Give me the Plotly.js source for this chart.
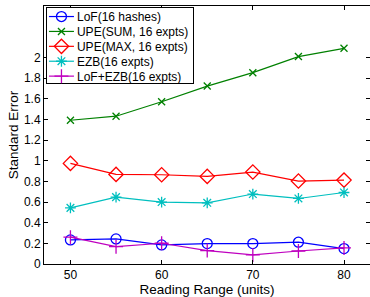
<!DOCTYPE html>
<html>
<head>
<meta charset="utf-8">
<script src="https://cdn.plot.ly/plotly-3.0.1.min.js"></script>
<style>html,body{margin:0;padding:0;background:#fff;}#chart{width:370px;height:297px;}</style>
</head>
<body>
<div id="chart"></div>
<script>
const readingRange = [50, 55, 60, 65, 70, 75, 80];
const lofHashes = [0.233, 0.243, 0.185, 0.198, 0.198, 0.211, 0.149];
const upeSum = [1.393, 1.432, 1.572, 1.724, 1.854, 2.01, 2.09];
const upeMax = [0.975, 0.868, 0.865, 0.849, 0.891, 0.804, 0.813];
const ezb = [0.544, 0.648, 0.600, 0.593, 0.678, 0.635, 0.693];
const lofEzb = [0.26, 0.168, 0.201, 0.13, 0.088, 0.126, 0.156];
const seriesNames = ["LoF(16 hashes)", "UPE(SUM, 16 expts)", "UPE(MAX, 16 expts)", "EZB(16 expts)", "LoF+EZB(16 expts)"];
const xTicks = [50, 60, 70, 80];
const yTicks = [0, 0.2, 0.4, 0.6, 0.8, 1, 1.2, 1.4, 1.6, 1.8, 2];

const seriesValues = [lofHashes, upeSum, upeMax, ezb, lofEzb];
const colors = ["#0000ff", "#008000", "#ff0000", "#00bfbf", "#bf00bf"];
const symbols = ["circle-open", "x-thin-open", "diamond-open", "asterisk-open", "cross-thin-open"];
const sizes = [10, 7, 11, 9, 10];

const traces = seriesValues.map((vals, i) => ({
  x: readingRange,
  y: vals,
  name: seriesNames[i],
  type: "scatter",
  mode: "lines+markers",
  line: {color: colors[i], width: 1.2},
  marker: {symbol: symbols[i], size: sizes[i], color: colors[i], line: {color: colors[i], width: 1.3}}
}));

const fam = "Liberation Sans, Arial, sans-serif";
const layout = {
  width: 370, height: 297,
  margin: {l: 44, r: 0, t: 6, b: 33},
  paper_bgcolor: "#fff", plot_bgcolor: "#fff",
  font: {family: fam, size: 12, color: "#000"},
  showlegend: true,
  legend: {
    x: 0.006, y: 0.996, xanchor: "left", yanchor: "top",
    bgcolor: "#fff", bordercolor: "#000", borderwidth: 1,
    font: {family: fam, size: 12, color: "#000"},
    tracegroupgap: 0
  },
  xaxis: {
    range: [47.1, 82.85],
    tickvals: xTicks, ticktext: xTicks.map(String),
    ticks: "inside", ticklen: 4, tickcolor: "#000",
    showline: true, linecolor: "#000", linewidth: 1, mirror: "ticks",
    showgrid: false, zeroline: false,
    tickfont: {size: 12},
    title: {text: "Reading Range (units)", font: {size: 13.5}, standoff: 0}
  },
  yaxis: {
    range: [0, 2.5],
    tickvals: yTicks, ticktext: yTicks.map(String),
    ticks: "inside", ticklen: 4, tickcolor: "#000",
    showline: true, linecolor: "#000", linewidth: 1, mirror: "ticks",
    showgrid: false, zeroline: false,
    tickfont: {size: 12},
    title: {text: "Standard Error", font: {size: 13.5}, standoff: 2}
  }
};

Plotly.newPlot("chart", traces, layout, {displayModeBar: false, staticPlot: true}).then(function (gd) {
  // Compact the legend to MATLAB-like spacing
  const leg = gd.querySelector(".legend");
  if (!leg) return;
  const items = leg.querySelectorAll(".traces");
  items.forEach(function (t, i) {
    t.setAttribute("transform", "translate(0," + (9.5 + 14.9 * i) + ")");
    const txt = t.querySelector(".legendtext");
    if (txt) txt.setAttribute("x", 31);
    t.querySelectorAll(".legendlines path").forEach(function (p) { p.setAttribute("d", "M3,0h25"); });
    t.querySelectorAll(".legendpoints path").forEach(function (p) { p.setAttribute("transform", "translate(15.5,0)"); });
  });
  const sb = leg.querySelector(".scrollbox");
  if (sb) sb.setAttribute("transform", "translate(0,0)");
  const bg = leg.querySelector(".bg");
  if (bg) { bg.setAttribute("width", 147); bg.setAttribute("height", 75.5); }
});
</script>
</body>
</html>
